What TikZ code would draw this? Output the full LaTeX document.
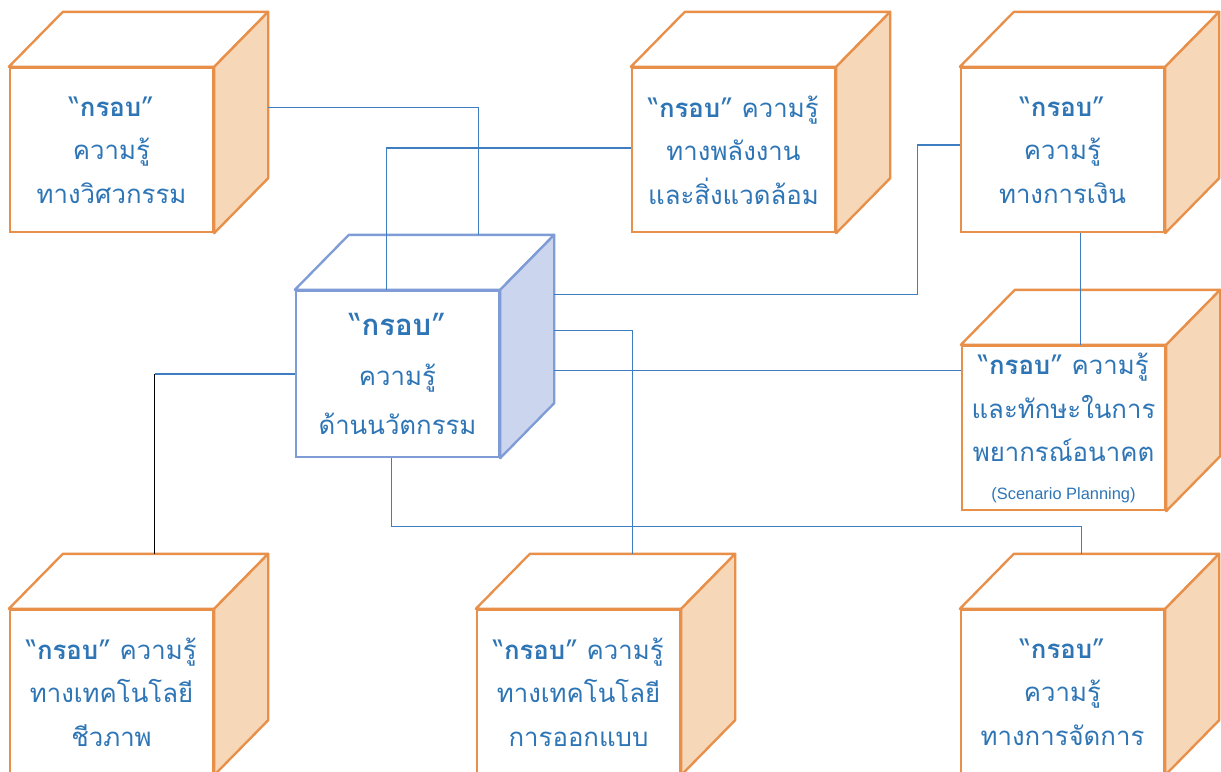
\documentclass[tikz,border=0pt]{standalone}
\usepackage{fontspec}
\usetikzlibrary{calc}
\newfontfamily\thaifont[Script=Thai]{Loma}
\setsansfont{Liberation Sans}
\definecolor{myOrange}{RGB}{232, 144, 74}
\definecolor{myPeach}{RGB}{246, 215, 184}
\definecolor{myBlue}{RGB}{46, 117, 182}
\definecolor{myPeri}{RGB}{127, 156, 214}
\definecolor{myLavender}{RGB}{204, 213, 238}
\definecolor{myLine}{RGB}{62, 126, 192}

\begin{document}
\begin{tikzpicture}[x=0.03cm, y=-0.03cm,
		cubeface/.style={draw=myOrange, line width=2pt, fill=white, inner sep=0pt,
			minimum width=6.09cm, minimum height=4.92cm, align=center, text=myBlue,
			font=\thaifont\fontsize{22}{37}\selectfont},
		link/.style={myLine, line width=1.1pt}]
				\useasboundingbox (0,0) rectangle (1221,771);
				\clip (0,0) rectangle (1221,771);
				\draw (111.5,150) node[cubeface] (E) {“\textbf{กรอบ}”\\ความรู้\\ทางวิศวกรรม};
				\draw (733.5,150) node[cubeface] (P) {“\textbf{กรอบ}” ความรู้\\ทางพลังงาน\\และสิ่งแวดล้อม};
				\draw (1062.5,150) node[cubeface] (F) {“\textbf{กรอบ}”\\ความรู้\\ทางการเงิน};
				\draw (1063.5,428) node[cubeface, font=\thaifont\fontsize{22}{37.4}\selectfont] (S) {“\textbf{กรอบ}” ความรู้\\และทักษะในการ\\พยากรณ์อนาคต\\[-5pt]{\sffamily\fontsize{14}{16}\selectfont (Scenario Planning)}};
				\draw (397.5,374) node[cubeface, draw=myPeri, minimum height=4.98cm, font=\thaifont\fontsize{22}{42.5}\selectfont] (I) {{\fontsize{25}{30}\selectfont“\textbf{กรอบ}”}\\ความรู้\\ด้านนวัตกรรม};
				\draw (111.5,692) node[cubeface] (B) {“\textbf{กรอบ}” ความรู้\\ทางเทคโนโลยี\\ชีวภาพ};
				\draw (578.5,692) node[cubeface] (D) {“\textbf{กรอบ}” ความรู้\\ทางเทคโนโลยี\\การออกแบบ};
				\draw (1062.5,692) node[cubeface] (M) {“\textbf{กรอบ}”\\ความรู้\\ทางการจัดการ};

				% top and side of each box
				\foreach \n/\c/\s in {E/myOrange/myPeach, P/myOrange/myPeach, F/myOrange/myPeach,
					S/myOrange/myPeach, I/myPeri/myLavender, B/myOrange/myPeach,
					D/myOrange/myPeach, M/myOrange/myPeach} {
					\coordinate (\n-tl) at ($(\n.north west)+(54,-55)$);
					\coordinate (\n-tr) at ($(\n.north east)+(54,-55)$);
					\coordinate (\n-br) at ($(\n.south east)+(54,-55)$);
					\draw[draw=\c, line width=2pt, fill=white, line join=round]
						(\n.north west) -- (\n-tl) -- (\n-tr) -- (\n.north east) -- cycle;
					\draw[draw=\c, line width=2pt, fill=\s, line join=round]
						(\n.north east) -- (\n-tr) -- (\n-br) -- (\n.south east) -- cycle;
				}

				\draw[link] (E-tr) ++(0,96) -| ($(I-tl)+(130,0)$);
				\draw[link] ($(P.west)+(0,-2)$) -| ($(I.north west)+(92,0)$);
				\draw[link] ($(I-tr)+(0,60)$) -| ($(F.west)+(-42,-5)$) -- ($(F.west)+(0,-5)$);
				\draw[link] ($(F.south)+(18,0)$) -- ($(S.north)+(17,0)$);
				\draw[link] ($(I-tr)+(0,136)$) coordinate (r) -- (r -| S.west);
				\draw[link] ($(I-tr)+(0,96)$) -| ($(D-tl)+(103,0)$);
				\coordinate (k) at ($(I.west -| B-tl)+(92,0)$);
				\draw[link] (I.west) -- (k);
				\draw[black, line width=1.1pt] (k) -- (k |- B-tl);
				\draw[link] ($(I.south)+(-6,0)$) |- ($(M-tl)+(68,-27)$) -- ($(M-tl)+(68,0)$);
			\end{tikzpicture}
\end{document}
